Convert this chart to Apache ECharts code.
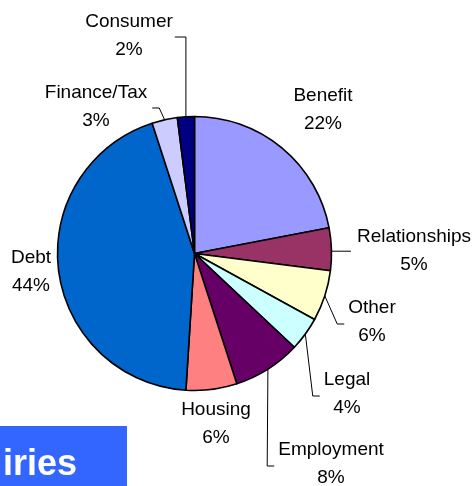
<!DOCTYPE html>
<html>
<head>
<meta charset="utf-8">
<script src="https://cdn.jsdelivr.net/npm/echarts@6/dist/echarts.min.js"></script>
<style>html,body{margin:0;padding:0;background:#fff;}#c{width:474px;height:486px;}</style>
</head>
<body>
<div id="c"></div>
<script>
const categories = ['Benefit', 'Relationships', 'Other', 'Legal', 'Employment', 'Housing', 'Debt', 'Finance/Tax', 'Consumer'];
const values = [22, 5, 6, 4, 8, 6, 44, 3, 2];
const colors = ['#9999FF', '#993366', '#FFFFCC', '#CCFFFF', '#660066', '#FF8080', '#0066CC', '#CCCCFF', '#000080'];
// label block centres (layout)
const labelPos = [[323, 110], [414, 251], [372, 322], [347, 394], [331, 464], [216, 424], [31, 272], [96, 107], [129, 36]];
// leader line style per slice
const leader = ['none', 'h', 'L', 'L', 'L', 'none', 'none', 'R', 'up'];

const FONT = 'Liberation Sans, Arial, sans-serif';
const chart = echarts.init(document.getElementById('c'), null, {renderer: 'canvas'});

const data = categories.map((name, i) => ({
  name: name,
  value: values[i],
  itemStyle: {color: colors[i]},
  labelLine: {show: leader[i] !== 'none'}
}));

chart.setOption({
  animation: false,
  backgroundColor: '#fff',
  graphic: [
    {type: 'rect', left: 0, top: 426, shape: {width: 127, height: 60}, style: {fill: '#3366FF'}, silent: true},
    {type: 'text', x: 3, y: 465, style: {text: 'iries', fill: '#fff', font: 'bold 36px ' + FONT, verticalAlign: 'middle'}, silent: true}
  ],
  series: [{
    type: 'pie',
    center: [194.5, 253.5],
    radius: 137,
    startAngle: 90,
    clockwise: true,
    avoidLabelOverlap: false,
    silent: true,
    emphasis: {disabled: true},
    itemStyle: {borderColor: '#000', borderWidth: 1.6},
    label: {
      show: true,
      position: 'outside',
      formatter: '{b}\n{c}%',
      color: '#000',
      fontFamily: FONT,
      fontSize: 19,
      lineHeight: 28,
      align: 'center'
    },
    labelLine: {show: true, length: 10, length2: 10, lineStyle: {color: '#000', width: 1}},
    labelLayout: function (p) {
      const i = p.dataIndex;
      const x = labelPos[i][0], y = labelPos[i][1];
      const w = p.labelRect.width;
      const res = {x: x, y: y, align: 'center', verticalAlign: 'middle'};
      const pts = p.labelLinePoints;
      if (pts && leader[i] !== 'none') {
        const p0 = pts[0];
        const left = x - w / 2, right = x + w / 2;
        let end, elbow;
        if (leader[i] === 'h') {
          end = [left - 6, p0[1] + 2];
          elbow = [(p0[0] + end[0]) / 2, p0[1] + 2];
          res.labelLinePoints = [[p0[0], p0[1] + 2], elbow, end];
          return res;
        } else if (leader[i] === 'L') {
          end = [left - 4, y + 2];
          elbow = [end[0] - 7, end[1]];
        } else if (leader[i] === 'R') {
          end = [right + 5, y + 1];
          elbow = [end[0] + 7, end[1]];
        } else {
          end = [right + 2, y + 1];
          elbow = [p0[0], end[1]];
        }
        res.labelLinePoints = [p0, elbow, end];
      }
      return res;
    },
    data: data
  }]
});
</script>
</body>
</html>
